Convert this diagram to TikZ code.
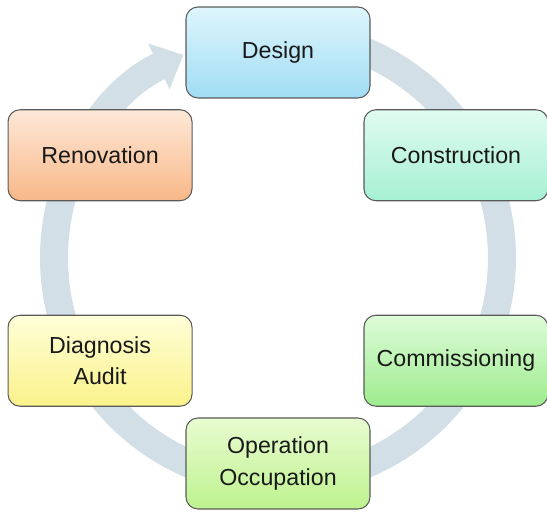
\documentclass[tikz,border=0pt]{standalone}
\usepackage{fontspec}
\setmainfont{Liberation Sans}
\usetikzlibrary{arrows.meta}

\definecolor{ringblue}{HTML}{D3DFE7}
\definecolor{edgegray}{HTML}{5A5A5A}

\tikzset{
  stage/.style={draw=edgegray, line width=0.6pt, rounded corners=0.24cm,
    minimum width=3.68cm, minimum height=1.82cm, align=center,
    font=\fontsize{13.2}{18}\selectfont, text=black!90},
  ring/.style={ringblue, line width=0.56cm,
    -{Triangle[width=0.98cm,length=0.54cm]}}
}

\begin{document}
\begin{tikzpicture}
    \useasboundingbox (0,0) rectangle (10.94,10.26);
    \coordinate (hub) at (5.56,5.1);

    % Anillo del ciclo
    \draw[ring] ([shift={(90:4.48)}]hub) arc[start angle=90, end angle=-245, radius=4.48];

    % Etapas
    \node[stage, top color={rgb,255:red,222;green,246;blue,252}, bottom color={rgb,255:red,160;green,220;blue,244}] (design) at ([shift={(90:4.11)}]hub) {Design};
    \node[stage, top color={rgb,255:red,224;green,251;blue,240}, bottom color={rgb,255:red,166;green,240;blue,212}] (construction) at ([shift={(30:4.11)}]hub) {Construction};
    \node[stage, top color={rgb,255:red,221;green,251;blue,216}, bottom color={rgb,255:red,158;green,236;blue,142}] (commissioning) at ([shift={(-30:4.11)}]hub) {Commissioning};
    \node[stage, top color={rgb,255:red,232;green,252;blue,208}, bottom color={rgb,255:red,190;green,242;blue,143}] (operation) at ([shift={(-90:4.11)}]hub) {Operation\\Occupation};
    \node[stage, top color={rgb,255:red,255;green,254;blue,216}, bottom color={rgb,255:red,250;green,242;blue,138}] (diagnosis) at ([shift={(-150:4.11)}]hub) {Diagnosis\\Audit};
    \node[stage, top color={rgb,255:red,254;green,232;blue,216}, bottom color={rgb,255:red,248;green,184;blue,136}] (renovation) at ([shift={(150:4.11)}]hub) {Renovation};
\end{tikzpicture}
\end{document}
